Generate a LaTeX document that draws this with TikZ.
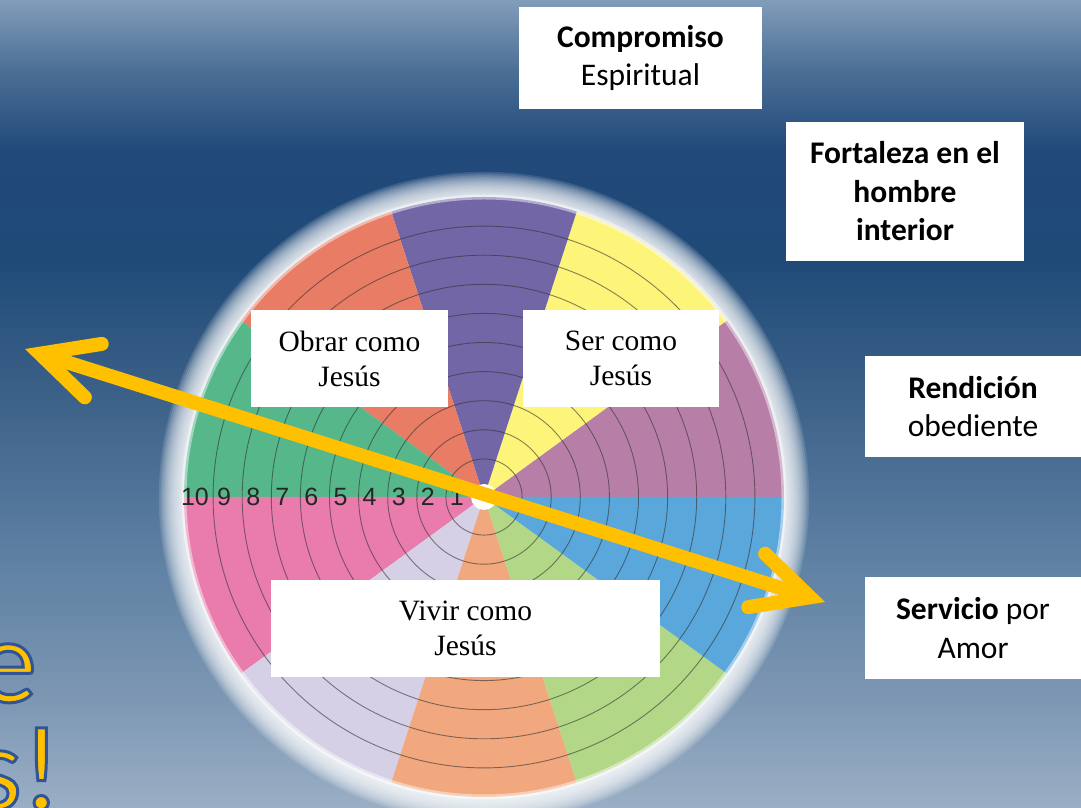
\documentclass[tikz,border=0pt]{standalone}
\usepackage{fontspec}
\setmainfont{Carlito}
\newfontfamily\serifa{Liberation Serif}
\newfontfamily\arial{Liberation Sans}
\usepackage{xcolor}
\usepackage{tikz}
\usetikzlibrary{arrows.meta, calc}

\definecolor{oro}{HTML}{FFC000}
\definecolor{fondoA}{HTML}{819DB9}
\definecolor{fondoB}{HTML}{4C6F96}
\definecolor{fondoC}{HTML}{21497A}
\definecolor{fondoD}{HTML}{1F4A78}
\definecolor{fondoE}{HTML}{3D6289}
\definecolor{fondoF}{HTML}{5C7FA2}
\definecolor{fondoG}{HTML}{7D97B3}
\definecolor{fondoH}{HTML}{9AAFC5}
\definecolor{malva}{HTML}{B77FA8}
\definecolor{amarillo}{HTML}{FDF47A}
\definecolor{morado}{HTML}{7366A6}
\definecolor{coral}{HTML}{E97C65}
\definecolor{verde}{HTML}{55B78A}
\definecolor{rosa}{HTML}{E97CAC}
\definecolor{lavanda}{HTML}{D6D0E6}
\definecolor{naranja}{HTML}{F2A87E}
\definecolor{lima}{HTML}{B2D887}
\definecolor{celeste}{HTML}{5AA7DC}

\pgfdeclareverticalshading{fondo}{100bp}{color(0bp)=(fondoH); color(25bp)=(fondoH);
  color(31.68bp)=(fondoG); color(40.97bp)=(fondoF); color(50.25bp)=(fondoE);
  color(58.91bp)=(fondoD); color(65.72bp)=(fondoC); color(70.67bp)=(fondoB);
  color(75bp)=(fondoA); color(100bp)=(fondoA)}

% yellow letters with a blue outline (fill + stroke)
\newcommand{\contornado}[1]{\special{pdf:code 2 Tr 3 w 0.184 0.333 0.592 RG}#1\special{pdf:code 0 Tr}}

\tikzset{
  caja/.style={fill=white, inner sep=0pt, align=center,
    font=\fontsize{31.5}{38.5}\selectfont},
  cajaserif/.style={caja, font=\serifa\fontsize{29.5}{35}\selectfont},
  anillo/.style={draw=black!80, opacity=0.6, line width=0.9pt},
  numero/.style={inner sep=0pt, text=black!85, font=\arial\fontsize{25}{25}\selectfont},
  letra/.style={inner sep=0pt, text=oro, font=\fontsize{120}{120}\selectfont},
  punta/.tip={Straight Barb[length=56pt, width=56pt, line cap=round, line join=miter]},
  flecha/.style={draw=oro, line width=14pt, {punta}-{punta}}
}

\begin{document}
\begin{tikzpicture}[x=1pt, y=1pt]

% --- background ---
\clip (0,0) rectangle (1081,808);
\shade[shading=fondo] (0,0) rectangle (1081,808);

% --- wheel ---
\coordinate (centro) at (484,311);

% glow round the wheel
\foreach \i in {1,...,14}
  \fill[white, opacity=0.13] (centro) circle[radius={300+1.8*\i}];

% sectors, ten of 36 degrees
\foreach \a/\c in {0/malva, 36/amarillo, 72/morado, 108/coral, 144/verde,
                   180/rosa, 216/lavanda, 252/naranja, 288/lima, 324/celeste}
  \fill[\c] (centro) -- ++(\a:300) arc[start angle=\a, end angle=\a+36, radius=300] -- cycle;

% rings
\foreach \k in {1,...,9}
  \draw[anillo] (centro) circle[radius={300-29.1*(10-\k)}];
\draw[white, opacity=0.45, line width=5pt] (centro) circle[radius=300];

\fill[white] (centro) circle[radius=13];

% scale numbers
\foreach \k in {1,...,10}
  \node[numero] (num\k) at ({484-(300-29.1*(10-\k))+11},311) {\k};

% --- inner boxes ---
\node[cajaserif, minimum width=197, minimum height=97] (obrar) at (349.5,449.5) {Obrar como\\Jesús};
\node[cajaserif, minimum width=196, minimum height=97] (ser) at (621,449.5) {Ser como\\Jesús};
\node[cajaserif, minimum width=389, minimum height=97] (vivir) at (465.5,179.5) {Vivir como\\Jesús};

% --- double arrow ---
\coordinate (izq) at (25,459);
\coordinate (der) at (825,206);
\draw[flecha] (izq) -- (der);

% --- outer boxes ---
\node[caja, minimum width=243, minimum height=102] (compromiso) at (640.5,750) {\textbf{Compromiso}\\Espiritual};
\node[caja, minimum width=238, minimum height=139] (fortaleza) at (905,616.5) {\textbf{Fortaleza en el}\\\textbf{hombre}\\\textbf{interior}};
\node[caja, minimum width=216, minimum height=101] (rendicion) at (973,401.5) {\textbf{Rendición}\\obediente};
\node[caja, minimum width=216, minimum height=102] (servicio) at (973,180) {\textbf{Servicio} por\\Amor};

% --- cut title letters ---
\node[letra, anchor=base east] (letraE) at (37,106) {\contornado{e}};
\node[letra, anchor=base east] (letraS) at (61,-1) {\contornado{s!}};

\end{tikzpicture}
\end{document}
